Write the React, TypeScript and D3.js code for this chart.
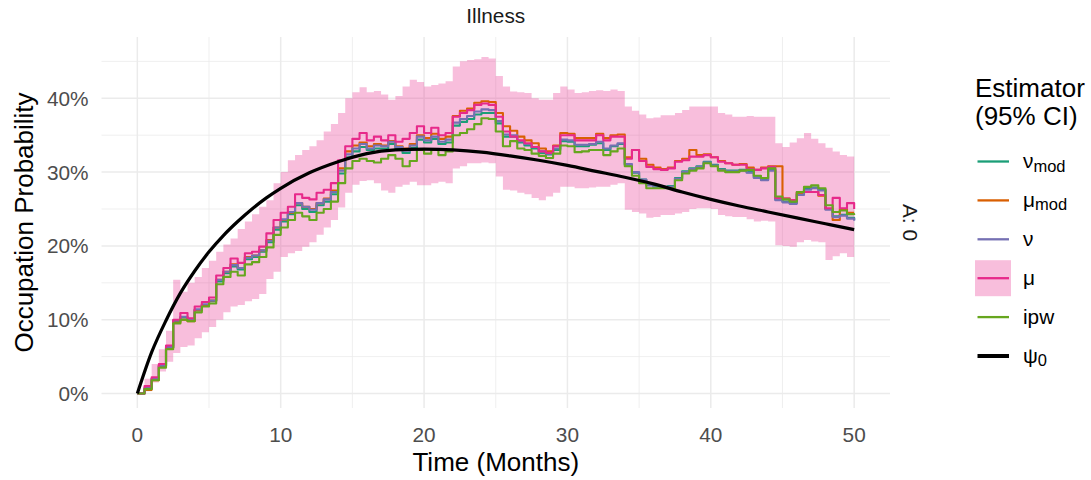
import React from "react";
import * as d3 from "d3";

const months = [0,0.5,1,1.5,2,2.5,3,3.5,4,4.5,5,5.5,6,6.5,7,7.5,8,8.5,9,9.5,10,10.5,11,11.5,12,12.5,13,13.5,14,14.5,15,15.5,16,16.5,17,17.5,18,18.5,19,19.5,20,20.5,21,21.5,22,22.5,23,23.5,24,24.5,25,25.5,26,26.5,27,27.5,28,28.5,29,29.5,30,30.5,31,31.5,32,32.5,33,33.5,34,34.5,35,35.5,36,36.5,37,37.5,38,38.5,39,39.5,40,40.5,41,41.5,42,42.5,43,43.5,44,44.5,45,45.5,46,46.5,47,47.5,48,48.5,49,49.5,50];

// values in percent
const muValues = [0,1.0,2.2,4.0,6.5,10.0,10.9,10.2,11.8,12.4,13.0,16.0,17.0,18.3,17.7,19.0,19.2,19.9,21.7,23.5,24.5,25.3,27.0,26.5,26.3,27.2,27.6,28.5,31.6,33.5,34.5,35.3,34.3,34.8,34.3,35.0,34.1,34.5,35.3,36.2,35.3,36.0,35.0,35.3,37.5,38.0,38.4,39.1,39.3,39.1,37.5,35.5,34.8,34.3,33.9,33.4,32.8,32.6,33.5,35.0,35.0,34.3,34.3,34.3,35.0,34.3,34.8,34.8,31.8,33.0,31.5,30.7,30.4,30.3,30.5,31.4,31.6,32.1,32.1,32.3,32.0,31.4,31.2,31.0,31.0,30.4,30.3,30.5,30.7,26.5,26.4,26.2,27.3,27.3,27.3,26.9,25.1,26.5,25.1,25.8,25.0];
const muModValues = [0,0.5,1.8,3.8,6.2,9.6,10.0,9.8,11.3,12.0,12.6,15.4,16.5,17.5,17.0,18.5,18.7,19.4,20.8,22.5,23.5,24.5,25.8,25.3,25.0,25.8,26.4,27.5,30.5,32.8,33.6,34.0,33.5,33.8,33.6,34.2,33.5,33.2,33.8,35.0,34.6,35.2,34.5,34.8,37.6,38.3,38.6,39.4,39.6,39.5,38.0,36.2,35.6,34.8,34.3,33.9,33.2,32.8,33.6,35.3,35.2,34.6,34.6,34.6,35.2,34.6,35.0,35.1,32.0,33.0,31.8,31.0,30.6,30.4,30.6,31.5,31.8,33.0,32.3,32.4,32.0,31.5,31.2,31.0,31.1,30.6,30.3,30.6,30.8,30.8,26.4,26.2,27.2,27.3,27.3,26.8,25.0,23.5,25.0,24.5,24.5];
const nuModValues = [0,0.7,2.0,3.7,6.2,9.8,10.3,10.0,11.3,12.0,12.5,15.2,16.3,17.2,16.8,18.2,18.5,19.2,20.5,22.2,23.3,24.3,25.5,25.0,24.6,25.5,26.0,27.0,29.8,32.0,32.8,33.4,33.0,33.2,33.2,33.8,33.2,32.6,33.3,34.4,34.0,34.5,33.8,34.0,36.3,36.8,37.2,37.8,38.0,38.0,36.6,34.8,34.8,34.0,33.6,33.2,32.6,32.4,33.0,34.2,34.1,33.5,33.5,33.7,33.9,33.0,33.5,33.8,31.0,29.9,29.0,28.3,28.0,28.0,28.1,29.2,30.1,30.5,30.8,31.4,31.0,30.4,30.2,30.2,30.3,30.0,29.3,29.0,30.3,26.3,26.0,25.8,27.0,27.7,27.9,27.6,25.0,24.0,24.2,23.8,23.5];
const nuValues = [0,0.7,2.0,3.8,6.3,9.9,10.4,10.1,11.4,12.1,12.6,15.4,16.5,17.4,17.0,18.4,18.7,19.4,20.7,22.5,23.6,24.6,25.8,25.3,24.9,25.8,26.3,27.3,30.2,32.4,33.2,33.8,33.2,33.6,33.5,34.1,33.4,32.9,33.6,34.8,34.3,34.8,34.1,34.4,36.7,37.2,37.6,38.2,38.5,38.4,36.9,35.1,35.0,34.2,33.8,33.4,32.8,32.5,33.2,34.4,34.3,33.7,33.7,33.8,34.1,33.2,33.6,33.9,31.1,30.0,29.0,28.2,27.9,27.9,28.0,29.1,30.0,30.4,30.7,31.3,30.9,30.3,30.1,30.1,30.2,29.9,29.2,28.9,30.2,26.2,25.9,25.7,26.9,27.6,27.8,27.5,24.9,23.9,24.1,23.7,23.4];
const ipwValues = [0,0.6,1.8,3.5,6.0,9.5,10.0,9.8,11.0,11.8,12.2,14.8,15.8,16.5,16.0,17.5,17.8,18.5,19.8,21.5,22.5,23.5,24.5,24.0,23.5,24.5,25.0,26.0,28.5,30.5,31.5,31.8,31.5,31.3,31.8,32.3,31.8,30.8,31.5,33.0,32.5,33.0,32.3,32.8,35.0,35.3,35.8,36.5,37.3,37.2,35.5,33.5,34.2,33.2,33.0,32.5,32.2,31.9,32.5,33.6,33.5,32.7,32.8,33.0,33.0,32.3,32.8,33.2,30.8,29.5,28.5,27.8,27.8,27.8,27.8,28.9,29.8,30.2,30.5,31.2,30.8,30.2,30.0,30.0,30.2,30.3,29.5,29.2,30.5,26.7,26.3,26.0,27.3,28.0,28.2,27.8,25.5,24.6,24.8,24.3,24.2];
const muUpper = [0,2.0,4.0,6.0,8.5,15.4,13.8,15.0,15.8,17.0,18.0,19.2,20.2,21.0,22.3,23.3,24.3,25.3,26.2,28.5,30.0,31.6,32.3,33.0,33.5,34.3,35.5,36.5,38.0,40.0,40.8,41.5,40.8,41.0,40.5,39.8,40.3,41.6,42.5,42.2,41.6,41.8,42.0,42.3,44.3,45.0,45.2,45.3,45.6,45.4,43.0,41.6,40.9,40.8,40.7,40.0,39.8,39.8,40.7,41.6,41.2,40.7,40.8,41.0,41.1,41.0,41.2,41.0,38.9,38.3,37.8,37.3,37.4,37.7,37.7,38.0,38.4,38.9,38.9,38.9,38.9,38.0,37.8,37.5,37.5,37.6,37.5,37.5,37.5,33.9,33.4,34.0,34.6,35.3,34.5,33.9,33.3,32.8,32.3,32.1,31.6];
const muLower = [0,0.3,1.5,3.0,4.3,5.5,6.3,6.5,7.5,8.3,9.0,10.0,11.0,11.8,12.0,12.5,12.8,13.5,15.5,16.5,18.5,19.0,19.3,19.9,20.5,21.5,22.5,23.5,25.2,27.2,28.3,28.8,28.9,28.5,27.5,27.2,28.0,28.3,28.7,28.2,28.2,28.5,28.7,28.5,30.5,30.8,31.2,31.2,31.3,31.2,29.4,27.6,27.5,27.2,27.0,26.5,26.2,26.7,27.2,28.0,28.0,27.8,27.8,27.9,28.0,28.0,28.3,28.5,24.9,24.6,24.4,23.8,23.9,24.2,24.2,24.4,24.6,25.0,25.1,25.1,25.0,24.2,24.0,23.9,23.9,23.6,23.3,23.4,23.3,20.1,20.0,19.9,20.5,20.8,20.6,20.5,18.1,18.6,19.0,18.5,18.3];

const truthMonths = [0,1,2,3,4,5,6,7,8,9,10,12,14,16,18,20,22,24,26,28,30,32,34,36,38,40,42,44,46,48,50];
const truthValues = [0,5.6,9.9,13.6,16.6,19.2,21.4,23.3,25.0,26.5,27.8,29.9,31.4,32.5,33.0,33.1,33.0,32.7,32.2,31.6,30.9,30.1,29.3,28.4,27.3,26.3,25.4,24.6,23.8,23.0,22.2];

const xTicks = [0, 10, 20, 30, 40, 50];
const xMinor = [5, 15, 25, 35, 45];
const yTicks = [0, 0.1, 0.2, 0.3, 0.4];
const yMinor = [0.05, 0.15, 0.25, 0.35, 0.45];

const seriesNames = ["nu_mod", "mu_mod", "nu", "mu", "ipw"];
const seriesColors = ["#1B9E77", "#D95F02", "#7570B3", "#E7298A", "#66A61E"];
const seriesValues = [nuModValues, muModValues, nuValues, muValues, ipwValues];

const FONT = "'Liberation Sans', Arial, Helvetica, sans-serif";

export default function App() {
  const left = 101.5, right = 890, top = 37, bottom = 408;
  const x = d3.scaleLinear().domain([-2.5, 52.5]).range([left, right]);
  const y = d3.scaleLinear().domain([-0.0196, 0.483]).range([bottom, top]);

  const lineGen = (vals: number[]) =>
    d3.line<number>()
      .x((_, i) => x(months[i]))
      .y((d) => y(d / 100))
      .curve(d3.curveStepAfter)(vals) || "";

  const area = d3.area<number>()
    .x((_, i) => x(months[i]))
    .y0((_, i) => y(muLower[i] / 100))
    .y1((_, i) => y(muUpper[i] / 100))
    .curve(d3.curveStepAfter)(months) || "";

  const truthPath = d3.line<number>()
    .x((_, i) => x(truthMonths[i]))
    .y((d) => y(d / 100))
    .curve(d3.curveMonotoneX)(truthValues) || "";

  const grid = "#EBEBEB";
  const legendRows = [
    { c: "#1B9E77", main: "\u03bd", sub: "mod" },
    { c: "#D95F02", main: "\u03bc", sub: "mod" },
    { c: "#7570B3", main: "\u03bd", sub: "" },
    { c: "#E7298A", main: "\u03bc", sub: "", box: true },
    { c: "#66A61E", main: "ipw", sub: "" },
    { c: "#000000", main: "\u03c8", sub: "0", thick: true },
  ];
  const legendY0 = 161.5, legendStep = 38.9;

  return (
    <div style={{ position: "fixed", left: 0, top: 0 }}>
      <svg width={1091} height={480} style={{ display: "block", background: "#fff" }} fontFamily={FONT}>
        {/* grid */}
        {yMinor.map((v) => (
          <line key={"ym" + v} x1={left} x2={right} y1={y(v)} y2={y(v)} stroke={grid} strokeWidth={0.8} />
        ))}
        {xMinor.map((v) => (
          <line key={"xm" + v} y1={top} y2={bottom} x1={x(v)} x2={x(v)} stroke={grid} strokeWidth={0.8} />
        ))}
        {yTicks.map((v) => (
          <line key={"yM" + v} x1={left} x2={right} y1={y(v)} y2={y(v)} stroke={grid} strokeWidth={1.5} />
        ))}
        {xTicks.map((v) => (
          <line key={"xM" + v} y1={top} y2={bottom} x1={x(v)} x2={x(v)} stroke={grid} strokeWidth={1.5} />
        ))}

        {/* ribbon */}
        <path d={area} fill="#E7298A" fillOpacity={0.3} stroke="none" />

        {/* series */}
        {seriesValues.map((vals, i) => (
          <path key={seriesNames[i]} d={lineGen(vals)} fill="none" stroke={seriesColors[i]} strokeWidth={2.1} strokeLinejoin="round" />
        ))}
        <path d={truthPath} fill="none" stroke="#000" strokeWidth={3.2} />

        {/* axes labels */}
        {yTicks.map((v) => (
          <text key={"yl" + v} x={88.5} y={y(v)} dy="0.36em" textAnchor="end" fontSize={20.8} fill="#4D4D4D">
            {d3.format(".0%")(v)}
          </text>
        ))}
        {xTicks.map((v) => (
          <text key={"xl" + v} x={x(v)} y={442} textAnchor="middle" fontSize={20.8} fill="#4D4D4D">
            {v}
          </text>
        ))}
        <text x={(left + right) / 2} y={471} textAnchor="middle" fontSize={26} fill="#000">Time (Months)</text>
        <text transform={`translate(33,${(top + bottom) / 2}) rotate(-90)`} textAnchor="middle" fontSize={26} fill="#000">
          Occupation Probability
        </text>
        <text x={(left + right) / 2} y={23.3} textAnchor="middle" fontSize={20.8} fill="#1A1A1A">Illness</text>
        <text transform={`translate(903,${(top + bottom) / 2}) rotate(90)`} textAnchor="middle" fontSize={20.8} fill="#1A1A1A">A: 0</text>

        {/* legend */}
        <text x={975} y={96.7} fontSize={26} fill="#000">Estimator</text>
        <text x={975} y={125} fontSize={26} fill="#000">(95% CI)</text>
        {legendRows.map((r, i) => {
          const cy = legendY0 + i * legendStep;
          return (
            <g key={"lg" + i}>
              {r.box && <rect x={975} y={cy - 18} width={36} height={36} fill="#E7298A" fillOpacity={0.3} />}
              <line x1={977.5} x2={1009} y1={cy} y2={cy} stroke={r.c} strokeWidth={r.thick ? 4 : 2.3} />
              <text x={1023} y={cy + 6.5} fontSize={20.8} fill="#000">
                {r.main}
                {r.sub && (
                  <tspan dy={3.5} fontSize={16.5}>{r.sub}</tspan>
                )}
              </text>
            </g>
          );
        })}
      </svg>
    </div>
  );
}
